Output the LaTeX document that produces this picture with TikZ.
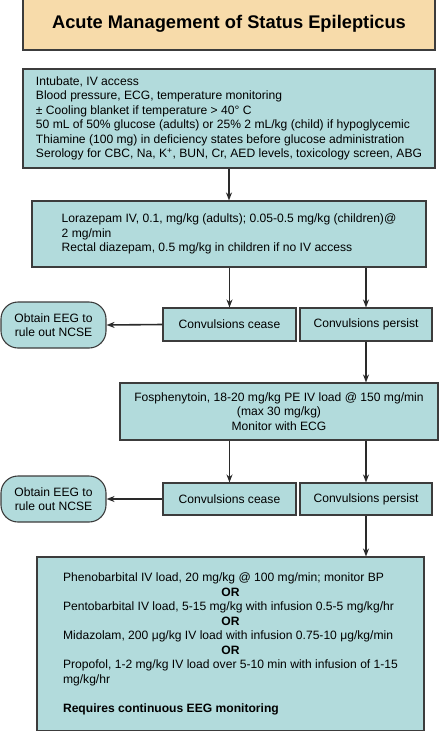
\documentclass[tikz,border=0pt]{standalone}
\usepackage{fontspec}
\setmainfont{Liberation Sans}
\usetikzlibrary{arrows.meta}
\definecolor{ink}{HTML}{2A2A2A}
\definecolor{frame}{HTML}{3C3C3C}
\definecolor{peach}{HTML}{F7DBAA}
\definecolor{teal}{HTML}{B2DBDC}
\newcommand{\txt}{\fontsize{12.1}{14.5}\selectfont}
\newcommand{\orline}{\multicolumn{1}{@{}c@{}}{\textbf{OR}}}

\begin{document}
\begin{tikzpicture}[x=1pt, y=-1pt, >={Stealth[length=8pt,width=6pt]},
  box/.style={draw=frame, line width=1.1pt, fill=teal, font=\txt, inner xsep=4pt, inner ysep=2pt},
  head/.style={draw=frame, line width=1.1pt, fill=peach, font=\bfseries\fontsize{18.3}{22}\selectfont},
  eeg/.style={box, rounded corners=17pt, align=center},
  flow/.style={->, ink, line width=1.6pt}]
\useasboundingbox (0,0) rectangle (439,731);

% ================= title and first steps =================
\node[head, minimum width=412pt, minimum height=52pt] (title) at (229,24) {Acute Management of Status Epilepticus};

\node[box, align=left, minimum width=412pt, minimum height=99pt] (init) at (229,118.5)
  {\fontsize{12.1}{14}\selectfont Intubate, IV access\\
   Blood pressure, ECG, temperature monitoring\\
   ± Cooling blanket if temperature > 40° C\\
   50 mL of 50\% glucose (adults) or 25\% 2 mL/kg (child) if hypoglycemic\\
   Thiamine (100 mg) in deficiency states before glucose administration\\
   Serology for CBC, Na, K\textsuperscript{+}, BUN, Cr, AED levels, toxicology screen, ABG};

\node[box, align=left, minimum width=394pt, minimum height=66pt] (benzo) at (229,234)
  {Lorazepam IV, 0.1, mg/kg (adults); 0.05-0.5 mg/kg (children)@\\
   2 mg/min\\
   Rectal diazepam, 0.5 mg/kg in children if no IV access};

% ================= first branch =================
\node[box, minimum width=133pt, minimum height=33pt] (cease1) at (229.5,324.5) {Convulsions cease};
\node[box, minimum width=132pt, minimum height=33pt] (persist1) at (366,324.5) {Convulsions persist};
\node[eeg, minimum width=105pt, minimum height=46pt] (eeg1) at (53.5,325) {Obtain EEG to\\rule out NCSE};

\node[box, align=center, minimum width=318pt, minimum height=57pt] (fos) at (279,411.5)
  {Fosphenytoin, 18-20 mg/kg PE IV load @ 150 mg/min\\
   (max 30 mg/kg)\\
   Monitor with ECG};

% ================= second branch =================
\node[box, minimum width=133pt, minimum height=32pt] (cease2) at (229.5,499) {Convulsions cease};
\node[box, minimum width=132pt, minimum height=32pt] (persist2) at (366,499) {Convulsions persist};
\node[eeg, minimum width=105pt, minimum height=46pt] (eeg2) at (53.5,499) {Obtain EEG to\\rule out NCSE};

% refractory status
\node[box, minimum width=387pt, minimum height=174pt] (refr) at (230.5,644)
  {\begin{tabular}{@{}l@{}}
   Phenobarbital IV load, 20 mg/kg @ 100 mg/min; monitor BP\\
   \orline\\
   Pentobarbital IV load, 5-15 mg/kg with infusion 0.5-5 mg/kg/hr\\
   \orline\\
   Midazolam, 200 μg/kg IV load with infusion 0.75-10 μg/kg/min\\
   \orline\\
   Propofol, 1-2 mg/kg IV load over 5-10 min with infusion of 1-15\\
   mg/kg/hr\\[14.5pt]
   \textbf{Requires continuous EEG monitoring}
   \end{tabular}};

% ================= arrows =================
\draw[flow] (init.south) -- (benzo.north);
\draw[flow] (benzo.south -| cease1.north) -- (cease1.north);
\draw[flow] (benzo.south -| persist1.north) -- (persist1.north);
\draw[flow] (cease1.west) -- (eeg1.east);
\draw[flow] (persist1.south) -- (persist1.south |- fos.north);
\draw[flow] (fos.south -| cease2.north) -- (cease2.north);
\draw[flow] (fos.south -| persist2.north) -- (persist2.north);
\draw[flow] (cease2.west) -- (eeg2.east);
\draw[flow] (persist2.south) -- (persist2.south |- refr.north);

\end{tikzpicture}
\end{document}
